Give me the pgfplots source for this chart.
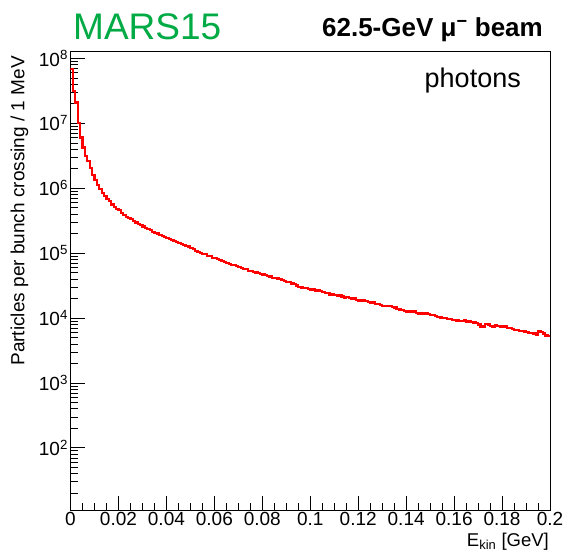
\documentclass[border=0pt]{standalone}
\usepackage{fontspec}
\setmainfont{Liberation Sans}
\usepackage{pgfplots}
\usepackage{pgfplotstable}
\pgfplotsset{compat=1.18}
\definecolor{marsgreen}{RGB}{0,170,68}
% photon spectrum, 1 MeV bins from 0 to 0.2 GeV (last row closes the outline at 0.2)
\pgfplotstableread{
v
6.8e7
3.1e7
2.09e7
1.0e7
6.03e6
4.22e6
3.16e6
2.63e6
2.04e6
1.58e6
1.32e6
1.12e6
9.77e5
8.51e5
7.59e5
6.76e5
6.31e5
5.62e5
5.13e5
4.79e5
4.57e5
4.17e5
3.89e5
3.63e5
3.47e5
3.31e5
3.09e5
2.95e5
2.82e5
2.69e5
2.57e5
2.45e5
2.34e5
2.24e5
2.14e5
2.04e5
2.00e5
1.91e5
1.82e5
1.78e5
1.70e5
1.66e5
1.58e5
1.55e5
1.48e5
1.41e5
1.38e5
1.32e5
1.29e5
1.26e5
1.20e5
1.15e5
1.07e5
1.05e5
1.00e5
9.77e4
9.55e4
9.12e4
8.91e4
8.51e4
8.32e4
8.13e4
7.76e4
7.59e4
7.24e4
7.08e4
6.76e4
6.61e4
6.46e4
6.31e4
6.03e4
5.89e4
5.75e4
5.62e4
5.37e4
5.25e4
5.13e4
5.01e4
4.90e4
4.79e4
4.68e4
4.57e4
4.47e4
4.37e4
4.17e4
4.17e4
4.07e4
3.98e4
3.89e4
3.72e4
3.63e4
3.55e4
3.39e4
3.31e4
3.16e4
3.02e4
2.95e4
2.88e4
2.88e4
2.82e4
2.75e4
2.75e4
2.63e4
2.69e4
2.57e4
2.51e4
2.45e4
2.40e4
2.29e4
2.34e4
2.24e4
2.19e4
2.24e4
2.14e4
2.04e4
2.09e4
2.04e4
1.95e4
2.00e4
1.91e4
1.86e4
1.82e4
1.86e4
1.82e4
1.74e4
1.70e4
1.74e4
1.66e4
1.62e4
1.58e4
1.55e4
1.55e4
1.51e4
1.51e4
1.48e4
1.45e4
1.38e4
1.35e4
1.32e4
1.29e4
1.26e4
1.26e4
1.23e4
1.26e4
1.20e4
1.17e4
1.20e4
1.15e4
1.17e4
1.15e4
1.12e4
1.10e4
1.07e4
1.05e4
1.02e4
1.00e4
1.00e4
9.77e3
9.55e3
9.33e3
9.33e3
9.12e3
8.91e3
8.91e3
9.12e3
8.71e3
8.91e3
8.71e3
8.51e3
8.32e3
7.94e3
7.24e3
7.41e3
8.13e3
7.94e3
7.59e3
7.41e3
7.76e3
7.59e3
7.41e3
7.24e3
7.41e3
7.08e3
6.92e3
6.76e3
6.61e3
6.46e3
6.31e3
6.31e3
6.17e3
6.03e3
5.89e3
5.89e3
5.75e3
5.50e3
6.17e3
6.03e3
5.75e3
5.37e3
5.25e3
5.25e3
}\histdata
\begin{document}
\begin{tikzpicture}
\useasboundingbox (-70.5pt,-43pt) rectangle (495.5pt,510pt);
\begin{axis}[
  at={(0,0)}, anchor=south west,
  scale only axis, width=479.5pt, height=459pt,
  xmin=0, xmax=0.2,
  ymode=log, ymin=11, ymax=1.3e8,
  axis line style={line width=0.8pt},
  every tick/.style={black, line width=0.6pt},
  major tick length=14pt, minor tick length=7pt,
  tick align=inside,
  xtick pos=left, ytick pos=left,
  xtick={0,0.02,0.04,0.06,0.08,0.1,0.12,0.14,0.16,0.18,0.2},
  xticklabels={0,0.02,0.04,0.06,0.08,0.1,0.12,0.14,0.16,0.18,0.2},
  minor x tick num=3,
  yticklabel={10\textsuperscript{\pgfmathparse{int(round(\tick/2.302585))}\pgfmathresult}},
  tick label style={font=\fontsize{19}{22}\selectfont},
  xticklabel style={yshift=1pt},
  yticklabel style={xshift=1pt},
]
\addplot[const plot mark left, red, line width=2.2pt, mark=none]
  table[x expr=\coordindex*0.001, y=v] {\histdata};
\end{axis}
\node[anchor=base west, inner sep=0, text=marsgreen, font=\fontsize{37}{40}\selectfont] at (2.5pt,470pt) {MARS15};
\node[anchor=base east, inner sep=0, font=\fontsize{26}{28}\selectfont\bfseries] at (472.5pt,473pt) {62.5-GeV μ\textsuperscript{−} beam};
\node[anchor=base east, inner sep=0, font=\fontsize{27}{30}\selectfont] at (450.5pt,422pt) {photons};
\node[rotate=90, anchor=east, inner sep=0, font=\fontsize{19}{22}\selectfont] at (-51pt,454pt) {Particles per bunch crossing / 1 MeV};
\node[anchor=base east, inner sep=0, font=\fontsize{18.5}{22}\selectfont] at (478.5pt,-36.5pt) {E\textsubscript{kin} [GeV]};
\end{tikzpicture}
\end{document}
